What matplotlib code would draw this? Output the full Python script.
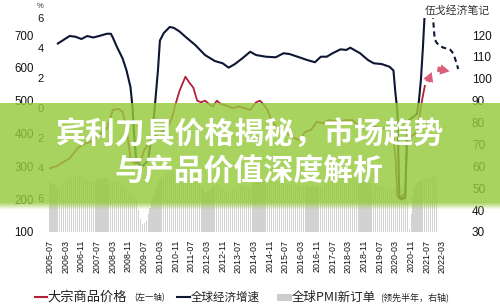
import matplotlib
matplotlib.use("Agg")
import matplotlib.pyplot as plt
from matplotlib.lines import Line2D
from matplotlib.patches import Rectangle

CJK = ["Noto Sans CJK SC", "DejaVu Sans"]
LAT = ["Liberation Sans", "DejaVu Sans"]

# ---------------- data ----------------
# Commodity price index (left outer axis)
price_dates = [
    "2005-07", "2005-11", "2006-02", "2006-05", "2006-09", "2007-01", "2007-04",
    "2007-08", "2007-12", "2008-03", "2008-06", "2008-08", "2008-10", "2008-12",
    "2009-02", "2009-05", "2009-07", "2009-10", "2010-01", "2010-04", "2010-07",
    "2010-09", "2010-11", "2011-01", "2011-04", "2011-06", "2011-08", "2011-10",
    "2011-12", "2012-02", "2012-04", "2012-06", "2012-08", "2012-10", "2013-01",
    "2013-04", "2013-07", "2013-10", "2014-01", "2014-04", "2014-06", "2014-08",
    "2014-10", "2014-12", "2015-03", "2015-06", "2015-09", "2015-12", "2016-02",
    "2016-05", "2016-08", "2016-11", "2017-02", "2017-05", "2017-10", "2018-02",
    "2018-05", "2018-08", "2018-11", "2019-04", "2019-08", "2019-12", "2020-01",
    "2020-02", "2020-03", "2020-04", "2020-05", "2020-06", "2020-07", "2020-08",
    "2020-09", "2020-10", "2020-11", "2020-12", "2021-01", "2021-02", "2021-03",
    "2021-04", "2021-05", "2021-06",
]
price_vals = [
    294, 302, 314, 324, 355, 370, 375,
    395, 416, 472, 475, 466, 416, 324,
    309, 314, 350, 375, 395, 405, 420,
    445, 490, 530, 573, 555, 540, 500,
    495, 500, 490, 482, 500, 490, 485,
    477, 482, 478, 472, 495, 500, 487,
    470, 436, 418, 410, 395, 385, 380,
    405, 411, 436, 431, 441, 436, 441,
    441, 426, 416, 421, 416, 416, 412,
    390, 330, 210, 205, 208, 212, 215,
    370, 385, 390, 395, 400, 405, 440,
    480, 515, 545,
]
# projected commodity path (arrow marks)
price_proj_dates = ["2021-07", "2021-10", "2021-11", "2022-08"]
price_proj_vals = [550, 595, 598, 588]

# Global economic growth, % (left inner axis)
growth_dates = [
    "2005-11", "2006-02", "2006-05", "2006-08", "2006-11", "2007-02", "2007-05",
    "2007-08", "2007-12", "2008-02", "2008-03", "2008-05", "2008-08", "2008-10",
    "2008-12", "2009-01", "2009-02", "2009-03", "2009-06", "2009-09", "2009-11",
    "2009-12", "2010-02", "2010-03", "2010-05", "2010-08", "2010-10", "2011-01",
    "2011-04", "2011-09", "2012-02", "2012-07", "2012-11", "2013-02", "2013-05",
    "2013-09", "2014-01", "2014-04", "2014-09", "2015-02", "2015-06", "2015-09",
    "2016-02", "2016-06", "2016-10", "2017-01", "2017-04", "2017-07", "2017-11",
    "2018-02", "2018-04", "2018-09", "2019-01", "2019-04", "2019-08", "2019-12",
    "2020-02", "2020-03", "2020-04", "2020-05", "2020-06", "2020-07", "2020-08",
    "2020-09", "2020-10", "2020-11", "2020-12", "2021-01", "2021-02", "2021-03",
    "2021-04", "2021-05", "2021-06",
]
growth_vals = [
    4.3, 4.55, 4.8, 4.75, 4.6, 4.8, 4.7,
    4.8, 4.95, 4.95, 4.7, 4.1, 3.3, 2.5,
    1.4, 0.1, -2.0, -3.6, -3.9, -3.5, -1.5,
    -0.5, 2.5, 4.5, 5.0, 5.4, 5.35, 5.1,
    4.75, 4.2, 3.53, 3.13, 2.98, 2.69, 2.91,
    3.31, 3.75, 3.53, 3.42, 3.38, 3.65, 3.6,
    3.38, 3.2, 3.05, 3.42, 3.42, 3.65, 3.91,
    3.87, 4.02, 3.65, 3.2, 2.98, 2.93, 2.75,
    2.5, 1.0, -0.2, -6.0, -6.1, -6.0, -6.0,
    -1.0, -0.8, -0.7, -0.6, -0.5, -0.4, 0.5,
    1.9, 4.0, 6.5,
]
# forecast path of global growth (dashed)
growth_fc_dates = [
    "2021-10", "2021-11", "2021-12", "2022-01", "2022-02", "2022-03", "2022-04",
    "2022-05", "2022-06", "2022-07", "2022-08", "2022-09", "2022-10", "2022-11",
]
growth_fc_vals = [6.3, 4.6, 4.35, 4.22, 4.12, 4.05, 4.0, 3.98, 3.94, 3.88, 3.72, 3.45, 3.05, 2.6]

# Global PMI new orders (right axis), plotted six months ahead
pmi_start = "2005-01"
pmi_vals = [
    53, 52, 52, 51, 50.5, 51, 52, 53, 53.5, 54, 54.5, 55,
    55, 55.5, 55, 55.5, 55, 55, 54, 54, 53.5, 53, 53, 53.5,
    54, 54.5, 54, 55, 55, 54.5, 54, 53, 53, 53.5, 53, 52.5,
    52, 51, 50.5, 50, 49.5, 48.5, 47.5, 47, 45, 40, 36, 33.5,
    34, 35, 38, 41, 44, 47, 50, 52.5, 54, 55, 55, 56,
    57, 57, 58, 58.5, 57.5, 55, 53.5, 53, 53, 54, 55, 56,
    57.5, 58, 56, 54.5, 52, 50, 49.5, 48.5, 48.5, 49, 49.5, 50.5,
    51.5, 52, 52, 51, 50, 48.5, 48.5, 48, 48.5, 49.5, 50, 50.5,
    51.5, 51.5, 51.5, 51, 51, 50.5, 51, 52, 52.5, 53, 54, 54,
    54, 53.5, 53, 53, 53, 53, 54, 53.5, 53, 53, 52.5, 52.5,
    52, 52, 52, 52, 51.5, 51.5, 51.5, 51.5, 51, 51.5, 51.5, 51,
    51, 50.5, 51, 50.5, 50.5, 51, 51, 51, 52, 52.5, 53, 53.5,
    53.5, 54, 54, 53.5, 53.5, 53.5, 53.5, 54, 54, 54, 54.5, 55,
    55, 54.5, 53.5, 53.5, 53, 53.5, 52.5, 52.5, 51.5, 51.5, 51.5, 51,
    50.5, 50.5, 50.5, 50.5, 49.5, 49, 49.5, 49.5, 50, 50, 50.5, 50.5,
    50, 46, 44, 31.5, 38, 46, 51, 52.5, 53, 53.5, 54.5, 54.5,
    54.5, 54.5, 55.5, 56, 56, 55,
]
pmi_lead = 6

x_ticklabels = [
    "2005-07", "2006-03", "2006-11", "2007-07", "2008-03", "2008-11", "2009-07",
    "2010-03", "2010-11", "2011-07", "2012-03", "2012-11", "2013-07", "2014-03",
    "2014-11", "2015-07", "2016-03", "2016-11", "2017-07", "2018-03", "2018-11",
    "2019-07", "2020-03", "2020-11", "2021-07", "2022-03",
]


def month_index(s):
    """Months elapsed since 2005-07."""
    y, m = map(int, s.split("-"))
    return (y - 2005) * 12 + (m - 7)


# ---------------- figure ----------------
W, H = 500, 306
fig = plt.figure(figsize=(W / 100, H / 100), dpi=100)
fig.patch.set_facecolor("white")


def fx(px):
    return px / W


def fy(py):
    return 1 - py / H


ax = fig.add_axes([fx(45), fy(232), (462 - 45) / W, (232 - 18) / H])
ax_c = ax.twinx()
ax_g = ax.twinx()

# PMI bars
p0 = month_index(pmi_start) + pmi_lead
pmi_x = [p0 + i for i in range(len(pmi_vals))]
ax.bar(pmi_x, pmi_vals, width=0.62, color="#d2d2d2", linewidth=0)

ax.set_xlim(-2.55, 209.93)
ax.set_ylim(30, 127.77)
ax.set_yticks(range(30, 130, 10))
ax.yaxis.tick_right()
ax.tick_params(axis="y", length=0, pad=7.2, labelsize=8.5, labelcolor="#141414")
ax.set_xticks([month_index(s) for s in x_ticklabels])
ax.set_xticklabels(x_ticklabels, rotation=90, fontsize=6.4, color="#111111")
ax.tick_params(axis="x", length=0, pad=5.5)
for lab in ax.get_xticklabels() + ax.get_yticklabels():
    lab.set_family(LAT)

# commodity price line
ax_c.plot([month_index(s) for s in price_dates], price_vals,
          color="#b3203a", lw=1.3, solid_joinstyle="round")
pj = [month_index(s) for s in price_proj_dates]
arrow_style = dict(arrowstyle="simple,head_width=0.85,head_length=0.75,tail_width=0.42",
                   color="#d33a5e", alpha=0.82, lw=0, mutation_scale=9)
ax_c.annotate("", xy=(pj[1], price_proj_vals[1]), xytext=(pj[0], price_proj_vals[0]),
              arrowprops=arrow_style)
ax_c.annotate("", xy=(pj[3], price_proj_vals[3]), xytext=(pj[2], price_proj_vals[2]),
              arrowprops=arrow_style)
ax_c.set_ylim(100, 751.8)
ax_c.set_yticks(range(100, 800, 100))
ax_c.yaxis.tick_left()
ax_c.tick_params(axis="y", length=0, pad=7.9, labelsize=8.3, labelcolor="#141414")
for lab in ax_c.get_yticklabels():
    lab.set_family(LAT)

# global growth line
ax_g.plot([month_index(s) for s in growth_dates], growth_vals,
          color="#0d1633", lw=1.5, solid_joinstyle="round")
ax_g.plot([month_index(s) for s in growth_fc_dates], growth_fc_vals,
          color="#0d1633", lw=1.5, ls=(0, (2.5, 1.8)))
ax_g.set_ylim(-8.267, 6.0)
ax_g.set_yticks(range(-6, 8, 2))
ax_g.set_yticklabels([str(abs(v)) for v in range(-6, 8, 2)])
ax_g.yaxis.tick_left()
ax_g.tick_params(axis="y", length=0, pad=0.8, labelsize=8, labelcolor="#141414")
for lab in ax_g.get_yticklabels():
    lab.set_family(LAT)

for a in (ax, ax_c, ax_g):
    for sp in a.spines.values():
        sp.set_visible(False)
    a.set_facecolor("none")

fig.text(fx(40), fy(6), "%", fontsize=5.5, ha="center", va="center",
         color="#333333", family=LAT)

# watermark
fig.text(fx(425), fy(11), "伍戈经济笔记", fontsize=7.8, ha="left", va="center",
         color="#333333", family=CJK)

# legend
ly = 297
fig.add_artist(Line2D([fx(35), fx(47)], [fy(ly), fy(ly)], transform=fig.transFigure,
                      color="#b3203a", lw=1.5))
fig.text(fx(47), fy(ly), "大宗商品价格", fontsize=9.5, ha="left", va="center",
         color="#222222", family=CJK)
fig.text(fx(134), fy(ly + 0.5), "(左一轴)", fontsize=6, ha="left", va="center",
         color="#222222", family=CJK)
fig.add_artist(Line2D([fx(177), fx(190)], [fy(ly), fy(ly)], transform=fig.transFigure,
                      color="#0d1633", lw=1.5))
fig.text(fx(191), fy(ly), "全球经济增速", fontsize=8.3, ha="left", va="center",
         color="#222222", family=CJK)
fig.add_artist(Rectangle((fx(277), fy(301)), 15 / W, 7 / H, transform=fig.transFigure,
                         color="#cccccc", lw=0))
fig.text(fx(292), fy(ly), "全球PMI新订单", fontsize=9, ha="left", va="center",
         color="#222222", family=CJK)
fig.text(fx(380), fy(ly + 0.5), "(领先半年，右轴)", fontsize=6.5, ha="left", va="center",
         color="#222222", family=CJK)

# title banner
green = (150 / 255, 202 / 255, 60 / 255)
fig.add_artist(Rectangle((0, fy(203)), 1, 100 / H, transform=fig.transFigure,
                         facecolor=green, edgecolor="none", alpha=0.82, zorder=10))
for i in range(6):
    fig.add_artist(Rectangle((0, fy(204 + i)), 1, 1 / H, transform=fig.transFigure,
                             facecolor=green, edgecolor="none",
                             alpha=0.82 * (1 - (i + 1) / 7), zorder=10))
fig.text(fx(250), fy(135), "宾利刀具价格揭秘，市场趋势", fontsize=21.5, fontweight="bold",
         ha="center", va="center", color="white", family=CJK, zorder=11)
fig.text(fx(249), fy(172), "与产品价值深度解析", fontsize=21.5, fontweight="bold",
         ha="center", va="center", color="white", family=CJK, zorder=11)

fig.savefig("out.png", dpi=100)
